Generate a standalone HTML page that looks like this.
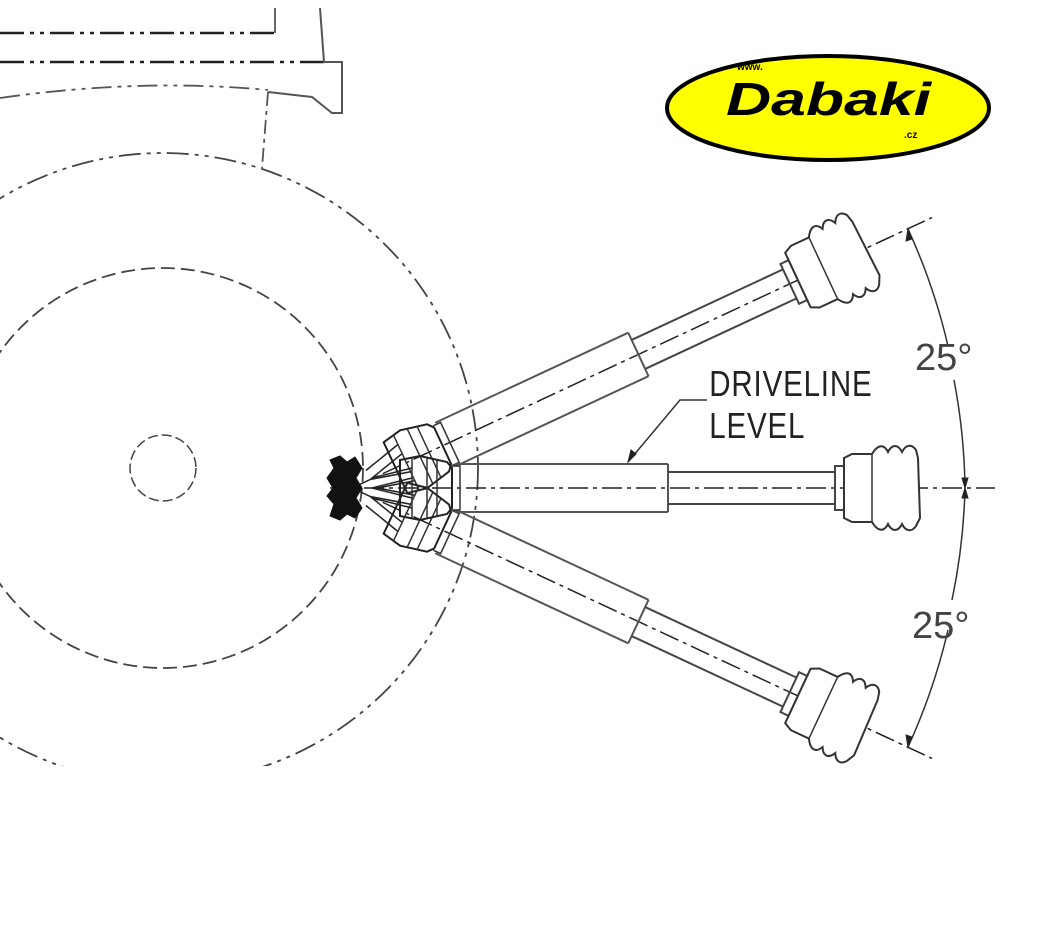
<!DOCTYPE html>
<html><head><meta charset="utf-8"><style>
html,body{margin:0;padding:0;background:#fff;width:1053px;height:930px;overflow:hidden}
svg{display:block}
</style></head><body>
<svg width="1053" height="930" viewBox="0 0 1053 930" xmlns="http://www.w3.org/2000/svg">
<defs>
<clipPath id="c"><rect x="0" y="0" width="1053" height="766"/></clipPath>
<g id="dl">
  <path d="M103,-24 L316,-24 M103,24 L316,24 M316,-24 L316,24" stroke="#555" stroke-width="2" fill="none"/>
  <path d="M316,-16 L483,-16 M316,16 L483,16" stroke="#444" stroke-width="2" fill="none"/>
  <rect x="483" y="-22" width="9" height="44" fill="none" stroke="#444" stroke-width="2"/>
  <path d="M492,-30 L500,-34 L520,-34 C526,-44 532,-44 536,-36 C540,-44 546,-44 550,-36 C554,-44 560,-44 564,-38 L566,-30 L568,30 L564,38 C560,44 554,44 550,36 C546,44 540,44 536,36 C532,44 526,44 520,34 L500,34 L492,30 Z" fill="#fff" stroke="#333" stroke-width="2"/>
  <line x1="520" y1="-34" x2="520" y2="34" stroke="#333" stroke-width="1.5"/>
  <path d="M48,-28 L68,-32 L95,-26 L100,-20 L100,20 L95,26 L68,32 L48,28 Z" fill="none" stroke="#222" stroke-width="2"/>
  <path d="M60,-30 L60,30 M75,-30 L75,30 M85,-28 L85,28 M100,-22 L108,-22 L108,22 L100,22" stroke="#333" stroke-width="1.5" fill="none"/>
  <path d="M20,-10 L60,-20 M20,10 L60,20 M20,0 L60,-10 M20,0 L60,10" stroke="#222" stroke-width="1.5" fill="none"/>
</g>
</defs>
<g clip-path="url(#c)" fill="none" stroke="#222">
  <path d="M0,33 L275,33 M0,62 L330,62" stroke-width="2.5" stroke-dasharray="24,6,4,6,4,6"/>
  <path d="M275,8 L275,33" stroke-width="2" stroke="#666"/>
  <path d="M320,8 L324,62 L342,62 L342,113 L332,113 L312,97 L268,92" stroke-width="2" stroke="#555"/>
  <path d="M0,98 Q140,78 268,90" stroke-width="1.8" stroke-dasharray="20,6,4,6,4,6" stroke="#555"/>
  <path d="M268,92 L262,168" stroke-width="1.8" stroke-dasharray="14,5,4,5" stroke="#555"/>
  <circle cx="163" cy="468" r="315" stroke-width="1.8" stroke-dasharray="22,6,4,6,4,6" stroke="#444"/>
  <circle cx="163" cy="468" r="200" stroke-width="1.8" stroke-dasharray="14,6" stroke="#444"/>
  <circle cx="163" cy="468" r="33" stroke-width="1.5" stroke-dasharray="10,4" stroke="#444"/>
  <path d="M330,488 L995,488" stroke-width="1.5" stroke-dasharray="20,5,4,5"/>
  <g transform="translate(352,488) rotate(-25)">
    <path d="M0,0 L640,0" stroke-width="1.5" stroke-dasharray="20,5,4,5"/>
    <use href="#dl"/>
  </g>
  <g transform="translate(352,488) rotate(25)">
    <path d="M0,0 L640,0" stroke-width="1.5" stroke-dasharray="20,5,4,5"/>
    <use href="#dl"/>
  </g>
  <g transform="translate(352,488)"><use href="#dl"/></g>
  <path d="M330,460 L340,456 L347,462 L355,457 L362,468 L356,478 L362,488 L356,498 L362,508 L355,518 L347,514 L340,520 L330,516 L334,504 L327,496 L333,488 L327,478 L334,468 Z" fill="#111" stroke="#111"/>
  <path d="M908,229 A613,613 0 0 1 948,346" stroke="#333" stroke-width="1.5"/>
  <path d="M954,380 A613,613 0 0 1 965,488" stroke="#333" stroke-width="1.5"/>
  <path d="M908,747 A613,613 0 0 0 948,630" stroke="#333" stroke-width="1.5"/>
  <path d="M952,600 A613,613 0 0 0 965,488" stroke="#333" stroke-width="1.5"/>
  <path d="M908,229 l-2,12 l6,-2 Z M965,488 l-3,-10 l6,0 Z M965,488 l-3,10 l6,0 Z M908,747 l-2,-12 l6,2 Z" fill="#222" stroke="#222"/>
  <path d="M707,400 L680,400 L628,462" stroke="#333" stroke-width="1.5"/>
  <path d="M628,462 l3,-12 l5,4 Z" fill="#222" stroke="#222"/>
</g>
<g font-family="Liberation Sans, sans-serif" fill="#222">
  <text x="709" y="396" font-size="36" transform="scale(0.82,1) translate(156,0)" letter-spacing="1">DRIVELINE</text>
  <text x="709" y="438" font-size="36" transform="scale(0.82,1) translate(156,0)" letter-spacing="1">LEVEL</text>
  <text x="915" y="370" font-size="38" fill="#444">25°</text>
  <text x="912" y="638" font-size="38" fill="#444">25°</text>
</g>
<ellipse cx="828" cy="108" rx="161" ry="52" fill="#ffff00" stroke="#000" stroke-width="4"/>
<text x="737" y="70" font-family="Liberation Sans, sans-serif" font-size="10" font-weight="bold">www.</text>
<text x="726" y="115" font-family="Liberation Sans, sans-serif" font-size="46" font-weight="bold" font-style="italic" textLength="205" lengthAdjust="spacingAndGlyphs">Dabaki</text>
<text x="904" y="138" font-family="Liberation Sans, sans-serif" font-size="10" font-weight="bold">.cz</text>
</svg>
</body></html>
